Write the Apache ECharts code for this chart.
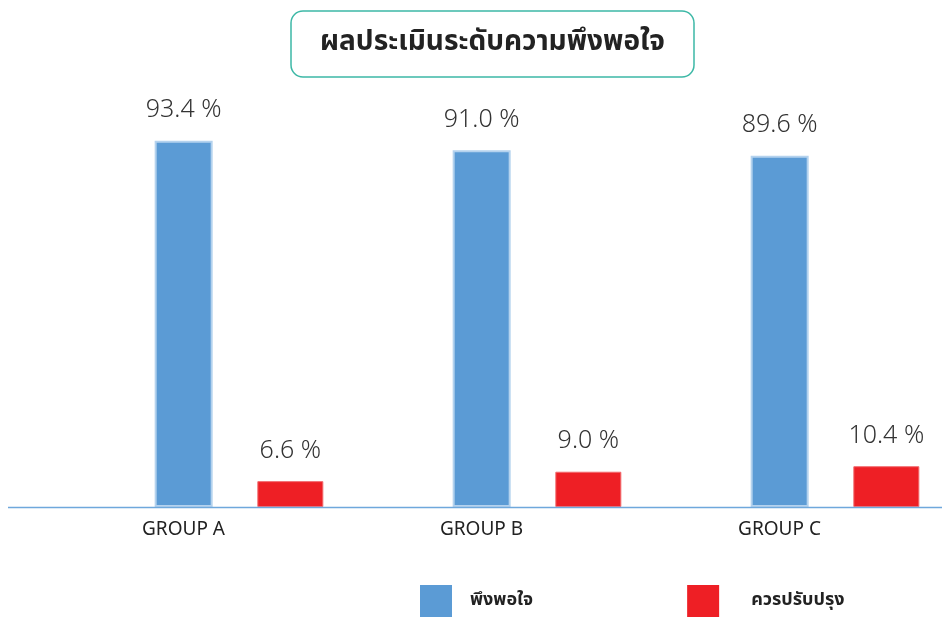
<!DOCTYPE html>
<html>
<head>
<meta charset="utf-8">
<script src="https://cdn.jsdelivr.net/npm/echarts@6/dist/echarts.min.js"></script>
<style>
  html, body { margin: 0; padding: 0; background: #fff; }
  #chart { width: 942px; height: 619px; }
</style>
</head>
<body>
<div id="chart"></div>
<script>
// ผลประเมินระดับความพึงพอใจ
var groups = ['GROUP A', 'GROUP B', 'GROUP C'];
var satisfied = [93.4, 91.0, 89.6];   // พึงพอใจ
var improve = [6.6, 9.0, 10.4];       // ควรปรับปรุง

var font = 'Tahoma, "Noto Sans Thai", "Noto Sans", sans-serif';

var chart = echarts.init(document.getElementById('chart'));

function pct(p) {
    return p.value.toFixed(1) + ' %';
}

var option = {
    textStyle: { fontFamily: font },
    title: {
        text: 'ผลประเมินระดับความพึงพอใจ',
        left: 291,
        top: 11,
        padding: [19, 29, 19, 29],
        borderColor: '#3db8a6',
        borderWidth: 1.5,
        borderRadius: 12,
        textStyle: {
            fontFamily: font,
            fontSize: 28,
            fontWeight: 'bold',
            color: '#222'
        }
    },
    legend: {
        left: 415,
        top: 580,
        itemWidth: 32,
        itemHeight: 32,
        itemGap: 154,
        selectedMode: false,
        itemStyle: { borderWidth: 0 },
        textStyle: {
            fontFamily: font,
            fontSize: 18,
            fontWeight: 'bold',
            color: '#222'
        },
        data: [
            { name: 'พึงพอใจ', icon: 'rect', textStyle: { padding: [0, 0, 0, 13] } },
            { name: 'ควรปรับปรุง', icon: 'rect', textStyle: { padding: [0, 0, 0, 27] } }
        ]
    },
    grid: {
        left: 90,
        right: -42,
        top: 115,
        bottom: 112,
        outerBoundsMode: 'none'
    },
    xAxis: {
        type: 'category',
        data: groups,
        axisLine: { show: false },
        axisTick: { show: false },
        axisLabel: {
            margin: 15,
            fontFamily: font,
            fontSize: 19,
            color: '#222',
            padding: [0, 111, 0, 0]
        }
    },
    yAxis: {
        type: 'value',
        min: 0,
        max: 100,
        show: false,
        splitLine: { show: false }
    },
    graphic: [{
        type: 'line',
        shape: { x1: 8, y1: 507.5, x2: 942, y2: 507.5 },
        style: { stroke: '#6fa8dc', lineWidth: 1.5 },
        z: 10
    }],
    series: [{
        name: 'พึงพอใจ',
        type: 'bar',
        data: satisfied,
        barWidth: 58,
        barGap: '77%',
        itemStyle: {
            color: '#5b9bd5',
            borderColor: '#b4d2ee',
            borderWidth: 2
        },
        label: {
            show: true,
            position: 'top',
            distance: 16,
            formatter: pct,
            fontFamily: font,
            fontSize: 25,
            fontWeight: 300,
            color: '#333'
        }
    }, {
        name: 'ควรปรับปรุง',
        type: 'bar',
        data: improve,
        barWidth: 66,
        itemStyle: {
            color: '#ee1f25',
            borderColor: '#f26a6e',
            borderWidth: 1
        },
        label: {
            show: true,
            position: 'top',
            distance: 16,
            formatter: pct,
            fontFamily: font,
            fontSize: 25,
            fontWeight: 300,
            color: '#333'
        }
    }]
};

chart.setOption(option);
</script>
</body>
</html>
